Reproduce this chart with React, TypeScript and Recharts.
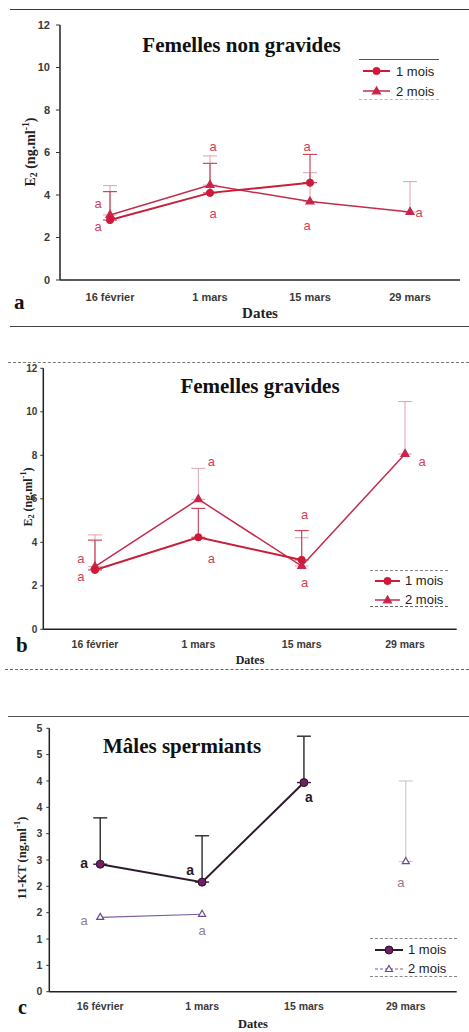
import React from "react";
import { LineChart, Line, XAxis, YAxis, ErrorBar, Legend } from "recharts";

const W = 469;
const SANS = "'Liberation Sans', Arial, sans-serif";
const SERIF = "'Liberation Serif', 'Times New Roman', serif";

const dates = ["16 février", "1 mars", "15 mars", "29 mars"];

// a - femelles non gravides (E2)
const nonGrav1 = [2.82, 4.1, 4.58, null];
const nonGrav1Err = [1.34, 1.39, 1.33, null];
const nonGrav2 = [3.06, 4.47, 3.69, 3.2];
const nonGrav2Err = [1.38, 1.37, 1.36, 1.43];
const nonGravLetHi = [3.6, 6.27, 6.3, 3.17];
const nonGravLetLo = [2.5, 3.15, 2.55, null];

// b - femelles gravides (E2)
const grav1 = [2.73, 4.23, 3.19, null];
const grav1Err = [1.37, 1.33, 1.35, null];
const grav2 = [2.88, 5.98, 2.91, 8.06];
const grav2Err = [1.46, 1.42, 1.3, 2.41];
const gravLetHi = [3.26, 7.71, 5.26, 7.71];
const gravLetLo = [2.42, 3.26, 2.15, null];

// c - males spermiants (11-KT)
const males1 = [2.42, 2.08, 3.97, null];
const males1Err = [0.88, 0.88, 0.88, null];
const males2 = [1.41, 1.47, null, 2.47];
const males2Err = [null, null, null, 1.53];
const malesLetHi = [2.45, 2.31, 3.69, null];
const malesLetLo = [1.35, 1.17, null, 2.07];

const e2Ticks = [0, 2, 4, 6, 8, 10, 12];
const ktTicks = [0, 0.5, 1, 1.5, 2, 2.5, 3, 3.5, 4, 4.5, 5];

type Num = number | null;

function buildRows(m1: Num[], e1: Num[], m2: Num[], e2: Num[], hi: Num[], lo: Num[]) {
  return dates.map((date, i) => ({
    date,
    m1: m1[i],
    m2: m2[i],
    e1: e1[i] == null ? null : [0, e1[i]],
    e2: e2[i] == null ? null : [0, e2[i]],
    hi: hi[i],
    lo: lo[i],
  }));
}

function triangle(cx: number, cy: number, s: number) {
  const h = s * 0.866;
  return `M${cx},${cy - (h * 2) / 3} L${cx + s / 2},${cy + h / 3} L${cx - s / 2},${cy + h / 3} Z`;
}

type Serie = {
  name: string;
  color: string;
  width: number;
  shape: "circle" | "triangle";
  size: number;
  fill: string;
  stroke: string;
  legendDash?: string;
  errColor: string;
  errWidth: number;
};

function makeDot(s: Serie) {
  return (props: any) => {
    const { cx, cy, index, value } = props;
    if (value == null || cx == null || cy == null) return <g key={`n${index}`} />;
    if (s.shape === "circle")
      return <circle key={`d${index}`} cx={cx} cy={cy} r={s.size} fill={s.fill} stroke={s.stroke} strokeWidth={1} />;
    return <path key={`d${index}`} d={triangle(cx, cy, s.size)} fill={s.fill} stroke={s.stroke} strokeWidth={1.2} />;
  };
}

function makeLetter(dxs: number[], color: string, weight: number, size: number) {
  return (props: any) => {
    const { cx, cy, index, value } = props;
    if (value == null || cx == null || cy == null) return <g key={`l${index}`} />;
    return (
      <text key={`l${index}`} x={cx + dxs[index]} y={cy} textAnchor="middle" dominantBaseline="central"
        fontFamily={SANS} fontSize={size} fontWeight={weight} fill={color}>
        a
      </text>
    );
  };
}

function LegendBox({ items, lg }: { items: Serie[]; lg: any }) {
  return (
    <div style={{
      boxSizing: "border-box", width: lg.width, height: lg.height, paddingTop: lg.padTop, paddingLeft: lg.padLeft,
      borderTop: lg.borderTop, borderBottom: lg.borderBottom, background: "#fff",
    }}>
      {items.map((it) => (
        <div key={it.name} style={{ display: "flex", alignItems: "center", height: lg.rowH }}>
          <svg width={lg.lineW} height={12} style={{ display: "block" }}>
            <line x1={0} x2={lg.lineW} y1={6} y2={6} stroke={it.color} strokeWidth={it.width} strokeDasharray={it.legendDash} />
            {it.shape === "circle" ? (
              <circle cx={lg.lineW / 2} cy={6} r={it.size} fill={it.fill} stroke={it.stroke} />
            ) : (
              <path d={triangle(lg.lineW / 2, 6.5, it.size)} fill={it.fill} stroke={it.stroke} strokeWidth={1.2} />
            )}
          </svg>
          <span style={{ marginLeft: lg.gap, fontFamily: SANS, fontSize: lg.textSize, color: "#222", lineHeight: 1 }}>
            {it.name}
          </span>
        </div>
      ))}
    </div>
  );
}

function Panel({ cfg }: { cfg: any }) {
  const { plot, xAxisH, s1, s2, lg } = cfg;
  const plotW = W - plot.left - plot.right;
  const plotCx = plot.left + plotW / 2;
  // categories sit in the middle of equal bands, as in the spreadsheet chart
  const pad = { left: plotW / 8, right: plotW / 8 };
  return (
    <div style={{ position: "absolute", left: 0, top: cfg.top, width: W, height: cfg.height }}>
      <LineChart width={W} height={cfg.height} data={cfg.rows}
        margin={{ top: plot.top, right: plot.right, bottom: plot.bottom - xAxisH, left: 0 }}>
        <XAxis dataKey="date" height={xAxisH} padding={pad} tickSize={0} tickMargin={cfg.xTickGap} interval={0}
          axisLine={{ stroke: "#222", strokeWidth: 1.5 }}
          tick={{ fontFamily: SANS, fontSize: cfg.xTickSize, fontWeight: 700, fill: "#3a3a3a" }}
          label={{
            content: () => (
              <text x={plotCx} y={cfg.datesY} textAnchor="middle" fontFamily={SERIF} fontWeight={700}
                fontSize={cfg.datesSize} fill="#222">Dates</text>
            ),
          }} />
        <XAxis xAxisId="top" dataKey="date" orientation="top" height={0} padding={pad} tick={false} tickLine={false}
          axisLine={{ stroke: "#444", strokeWidth: 1 }} />
        <YAxis width={plot.left} domain={cfg.domain} ticks={cfg.ticks} interval={0} tickFormatter={cfg.fmt}
          tickSize={cfg.yTickLen} tickMargin={cfg.yTickGap} tickLine={{ stroke: "#333" }}
          axisLine={{ stroke: "#222", strokeWidth: 1.5 }}
          tick={{ fontFamily: SANS, fontSize: cfg.yTickSize, fontWeight: 700, fill: "#3a3a3a" }}
          label={{ content: () => cfg.yLabel }} />
        <YAxis yAxisId="right" orientation="right" width={0} tick={false} tickLine={false}
          axisLine={{ stroke: "#888", strokeDasharray: "4 3" }} />
        <Line dataKey="m2" name={s2.name} stroke={s2.color} strokeWidth={s2.width} dot={makeDot(s2)}
          activeDot={false} isAnimationActive={false}>
          <ErrorBar dataKey="e2" direction="y" width={7} stroke={s2.errColor} strokeWidth={s2.errWidth} />
        </Line>
        <Line dataKey="m1" name={s1.name} stroke={s1.color} strokeWidth={s1.width} dot={makeDot(s1)}
          activeDot={false} isAnimationActive={false}>
          <ErrorBar dataKey="e1" direction="y" width={7} stroke={s1.errColor} strokeWidth={s1.errWidth} />
        </Line>
        <Line dataKey="hi" stroke="none" legendType="none" activeDot={false} isAnimationActive={false}
          dot={makeLetter(cfg.hiDx, cfg.hiColor, cfg.hiWeight, cfg.hiSize)} />
        <Line dataKey="lo" stroke="none" legendType="none" activeDot={false} isAnimationActive={false}
          dot={makeLetter(cfg.loDx, cfg.loColor, cfg.loWeight, cfg.loSize)} />
        <Legend layout="horizontal" verticalAlign="middle" align="center"
          wrapperStyle={{ left: lg.left, top: lg.top, width: lg.width, height: lg.height }}
          content={() => <LegendBox items={[s1, s2]} lg={lg} />} />
      </LineChart>
      <svg width={W} height={cfg.height} style={{ position: "absolute", left: 0, top: 0, pointerEvents: "none" }}>
        <text x={cfg.title.x} y={cfg.title.y} textAnchor={cfg.title.anchor} fontFamily={SERIF} fontWeight={700}
          fontSize={21} fill="#111">{cfg.title.text}</text>
        <text x={cfg.tag.x} y={cfg.tag.y} fontFamily={SERIF} fontWeight={700} fontSize={cfg.tag.size} fill="#111">
          {cfg.tag.text}
        </text>
      </svg>
    </div>
  );
}

function yLabelE2(cx: number, cy: number, size: number) {
  return (
    <text x={cx} y={cy} transform={`rotate(-90 ${cx} ${cy})`} textAnchor="middle" dominantBaseline="central"
      fontFamily={SERIF} fontWeight={700} fontSize={size} fill="#222">
      <tspan>E</tspan>
      <tspan dy={3} fontSize={size * 0.7}>2</tspan>
      <tspan dy={-3}> (ng.ml</tspan>
      <tspan dy={-5} fontSize={size * 0.7}>-1</tspan>
      <tspan dy={5}>)</tspan>
    </text>
  );
}

function yLabelKT(cx: number, cy: number, size: number) {
  return (
    <text x={cx} y={cy} transform={`rotate(-90 ${cx} ${cy})`} textAnchor="middle" dominantBaseline="central"
      fontFamily={SERIF} fontWeight={700} fontSize={size} fill="#222">
      <tspan>11-KT (ng.ml</tspan>
      <tspan dy={-5} fontSize={size * 0.7}>-1</tspan>
      <tspan dy={5}>)</tspan>
    </text>
  );
}

const redCircle: Serie = {
  name: "1 mois", color: "#c81e3a", width: 2, shape: "circle", size: 3.6, fill: "#d3163a", stroke: "#c81e3a",
  errColor: "#c8485c", errWidth: 1.2,
};
const redTriangle: Serie = {
  name: "2 mois", color: "#c42c4c", width: 1.5, shape: "triangle", size: 8, fill: "#d21e4e", stroke: "#c42c4c",
  errColor: "#dca4b0", errWidth: 1,
};
const purpleCircle: Serie = {
  name: "1 mois", color: "#2f1a2d", width: 2, shape: "circle", size: 4, fill: "#6e2062", stroke: "#2a0f26",
  errColor: "#2a2a2a", errWidth: 1.4,
};
const lilacTriangle: Serie = {
  name: "2 mois", color: "#7a5c9a", width: 1.2, shape: "triangle", size: 7, fill: "#ffffff", stroke: "#6a4a8a",
  legendDash: "3 2", errColor: "#c6bfd0", errWidth: 1,
};

const panelA = {
  top: 0, height: 330,
  plot: { top: 25, right: 9, bottom: 50, left: 60 }, xAxisH: 30,
  rows: buildRows(nonGrav1, nonGrav1Err, nonGrav2, nonGrav2Err, nonGravLetHi, nonGravLetLo),
  domain: [0, 12], ticks: e2Ticks, fmt: (v: number) => String(v),
  xTickSize: 11, xTickGap: 13.6, yTickSize: 11, yTickLen: 4, yTickGap: 6,
  datesY: 318, datesSize: 15,
  yLabel: yLabelE2(30, 152, 14),
  title: { text: "Femelles non gravides", x: 241.5, y: 52, anchor: "middle" },
  tag: { text: "a", x: 14, y: 309, size: 21 },
  s1: redCircle, s2: redTriangle,
  lg: { left: 359, top: 59, width: 80, height: 41, padTop: 1, padLeft: 4, rowH: 20, lineW: 27, gap: 6, textSize: 13,
    borderTop: "1px solid #555", borderBottom: "1px dashed #bbb" },
  hiDx: [-12, 3, -3, 9], loDx: [-12, 3, -3, 0],
  hiColor: "#d4405a", loColor: "#d4405a", hiWeight: 400, loWeight: 400, hiSize: 13, loSize: 13,
};

const panelB = {
  top: 340, height: 330,
  plot: { top: 28.3, right: 12.3, bottom: 40.7, left: 43.3 }, xAxisH: 25,
  rows: buildRows(grav1, grav1Err, grav2, grav2Err, gravLetHi, gravLetLo),
  domain: [0, 12], ticks: e2Ticks, fmt: (v: number) => String(v),
  xTickSize: 10.5, xTickGap: 11, yTickSize: 10, yTickLen: 3, yTickGap: 3,
  datesY: 324, datesSize: 12,
  yLabel: yLabelE2(28, 157, 12),
  title: { text: "Femelles gravides", x: 260, y: 53, anchor: "middle" },
  tag: { text: "b", x: 16, y: 312, size: 21 },
  s1: redCircle, s2: redTriangle,
  lg: { left: 370, top: 230, width: 78, height: 37, padTop: 0, padLeft: 5, rowH: 19, lineW: 25, gap: 5, textSize: 13,
    borderTop: "1px dashed #888", borderBottom: "1px dashed #666" },
  hiDx: [-14, 13, 3, 17], loDx: [-14, 13, 3, 0],
  hiColor: "#d4405a", loColor: "#d4405a", hiWeight: 400, loWeight: 400, hiSize: 13, loSize: 13,
};

const panelC = {
  top: 690, height: 342,
  plot: { top: 38.3, right: 12.3, bottom: 40.3, left: 49.3 }, xAxisH: 30,
  rows: buildRows(males1, males1Err, males2, males2Err, malesLetHi, malesLetLo),
  domain: [0, 5], ticks: ktTicks, fmt: (v: number) => String(Math.round(v)),
  xTickSize: 10.5, xTickGap: 11.3, yTickSize: 10.5, yTickLen: 3, yTickGap: 4,
  datesY: 337.5, datesSize: 12.5,
  yLabel: yLabelKT(22, 168, 12.5),
  title: { text: "Mâles spermiants", x: 103, y: 63, anchor: "start" },
  tag: { text: "c", x: 18, y: 324, size: 20 },
  s1: purpleCircle, s2: lilacTriangle,
  lg: { left: 370, top: 248, width: 87, height: 39, padTop: 1, padLeft: 5, rowH: 19, lineW: 28, gap: 5, textSize: 13,
    borderTop: "1px dashed #888", borderBottom: "1px dashed #888" },
  hiDx: [-16, -12, 5, 0], loDx: [-16, 0, 0, -5],
  hiColor: "#2a1a28", loColor: "#8d8096", hiWeight: 700, loWeight: 400, hiSize: 14, loSize: 13,
};

const rule = (top: number, left: number, border: string) => (
  <div style={{ position: "absolute", top, left, right: 0, borderTop: border }} />
);

export default function App() {
  return (
    <div style={{ position: "absolute", left: 0, top: 0, width: W, height: 1032, background: "#fff", overflow: "hidden" }}>
      {rule(9, 10, "1.5px solid #3a3a3a")}
      {rule(326, 10, "1.5px solid #444")}
      {rule(362, 8, "1px dashed #777")}
      {rule(669, 5, "1px dashed #666")}
      {rule(716, 8, "1px solid #555")}
      <Panel cfg={panelA} />
      <Panel cfg={panelB} />
      <Panel cfg={panelC} />
    </div>
  );
}
